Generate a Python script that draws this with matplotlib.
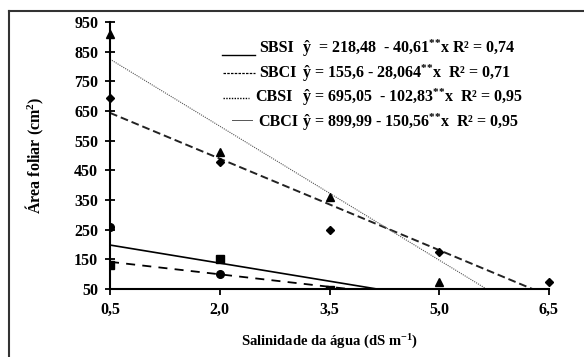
import numpy as np
import matplotlib.pyplot as plt
from matplotlib.lines import Line2D

plt.rcParams['font.family'] = ['Liberation Serif', 'DejaVu Serif']
plt.rcParams['font.weight'] = 'bold'
plt.rcParams['mathtext.fontset'] = 'custom'
plt.rcParams['mathtext.rm'] = 'Liberation Serif:bold'
plt.rcParams['mathtext.it'] = 'Liberation Serif:bold'
plt.rcParams['mathtext.bf'] = 'Liberation Serif:bold'

W, H = 584, 357

# salinity levels (dS m-1)
salinidade = [0.5, 2.0, 3.5, 5.0, 6.5]
x_ticks = ['0,5', '2,0', '3,5', '5,0', '6,5']
y_ticks = [50, 150, 250, 350, 450, 550, 650, 750, 850, 950]

# observed leaf area (cm2)
sbsi_x = [0.5, 2.0]
sbsi_y = [260, 100]
sbci_x = [0.5, 2.0, 3.5]
sbci_y = [132, 150, 45]
cbsi_x = [0.5, 2.0, 3.5, 5.0, 6.5]
cbsi_y = [695, 478, 249, 174, 73]
cbci_x = [0.5, 2.0, 3.5, 5.0]
cbci_y = [910, 513, 361, 75]

# fitted linear models: intercept, slope
sbsi_fit = (218.48, -40.61)
sbci_fit = (155.6, -28.064)
cbsi_fit = (695.05, -102.83)
cbci_fit = (899.99, -150.56)

names = ['SBSI', 'SBCI', 'CBSI', 'CBCI']
equations = [
    r'ŷ  = 218,48  - 40,61$^{{*}{*}}$x R² = 0,74',
    r'ŷ = 155,6 - 28,064$^{{*}{*}}$x  R² = 0,71',
    r'ŷ = 695,05  - 102,83$^{{*}{*}}$x  R² = 0,95',
    r'ŷ = 899,99 - 150,56$^{{*}{*}}$x  R² = 0,95',
]

fig = plt.figure(figsize=(W / 100, H / 100), dpi=100)
ax = fig.add_axes([110 / W, 1 - 289 / H, 439 / W, 267 / H])

xx = np.linspace(0.5, 6.5, 200)
ax.plot(xx, sbsi_fit[0] + sbsi_fit[1] * xx, color='black', lw=1.2)
ax.plot(xx, sbci_fit[0] + sbci_fit[1] * xx, color='black', lw=1.3, dashes=(5, 4))
ax.plot(xx, cbsi_fit[0] + cbsi_fit[1] * xx, color='#222222', lw=1.4, dashes=(4, 2))
ax.plot(xx, cbci_fit[0] + cbci_fit[1] * xx, color='#555555', lw=0.8, dashes=(1, 1))

ax.plot(sbsi_x, sbsi_y, 'o', color='black', ms=5.5, clip_on=True)
ax.plot(sbci_x, sbci_y, 's', color='black', ms=6, clip_on=True)
ax.plot(cbsi_x, cbsi_y, 'D', color='black', ms=4.2, clip_on=False)
ax.plot(cbci_x, cbci_y, '^', color='black', ms=6, clip_on=False)

ax.set_xlim(0.5, 6.5)
ax.set_ylim(50, 950)
ax.set_xticks(salinidade)
ax.set_xticklabels(x_ticks)
ax.set_yticks(y_ticks)
for s in ['top', 'right']:
    ax.spines[s].set_visible(False)
for s in ['left', 'bottom']:
    ax.spines[s].set_linewidth(1.5)
ax.tick_params(axis='y', direction='inout', length=7, width=1.3, labelsize=11.5, pad=5)
ax.tick_params(axis='x', direction='out', length=4, width=1.3, labelsize=11.5, pad=5)
for lab in ax.get_xticklabels() + ax.get_yticklabels():
    lab.set_fontweight('bold')

ax.set_ylabel('Área foliar (cm$^{2}$)', fontsize=11.5, fontweight='bold', labelpad=20)
ax.set_xlabel('Salinidade da água (dS m$^{-1}$)', fontsize=10.5, fontweight='bold', labelpad=11)

# legend drawn by hand: sample line, series name, fitted equation
key_styles = [
    dict(color='black', lw=1.0),
    dict(color='black', lw=0.9, dashes=(2, 1)),
    dict(color='black', lw=1.0, dashes=(1, 1)),
    dict(color='#555555', lw=0.7),
]
# row centre, key line y, key line start, key line end, name start
key_rows = [(48, 55, 222, 255, 259), (73, 73, 223, 255, 259),
            (97, 98, 223, 249, 255), (122, 120, 232, 252, 258)]
for name, eq, style, (ty, ly, x0, x1, tx) in zip(names, equations, key_styles, key_rows):
    fig.add_artist(Line2D([x0 / W, x1 / W], [1 - ly / H] * 2, transform=fig.transFigure, **style))
    fig.text(tx / W, 1 - ty / H, name, fontsize=11.5, fontweight='bold', va='center')
    fig.text(302 / W, 1 - ty / H, eq, fontsize=11.5, fontweight='bold', va='center')

# outer frame: top and left edges
fig.add_artist(Line2D([9 / W, 1], [1 - 11 / H] * 2, color='#333333', lw=1.5,
                      transform=fig.transFigure))
fig.add_artist(Line2D([9 / W] * 2, [0, 1 - 11 / H], color='#333333', lw=1.5,
                      transform=fig.transFigure))

fig.savefig('out.png', dpi=100)
